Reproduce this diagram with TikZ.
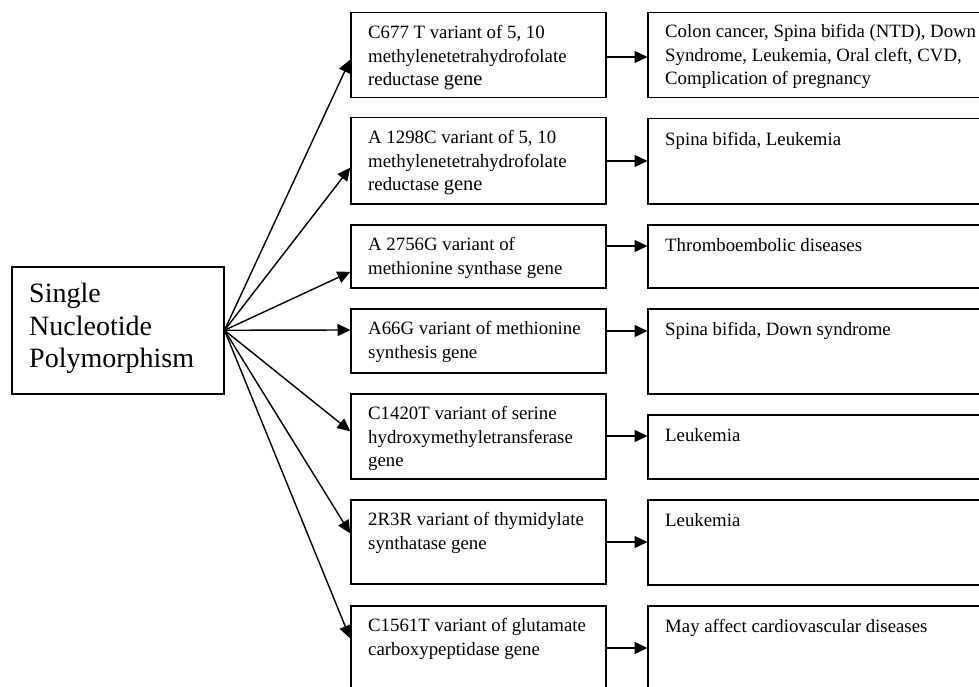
\documentclass[tikz,border=0pt]{standalone}
\usepackage{fontspec}
\setmainfont{Liberation Serif}
\usetikzlibrary{arrows.meta}
\begin{document}
\begin{tikzpicture}[x=1pt,y=-1pt,
  box/.style={draw, line width=1.5pt, rectangle, inner sep=0pt, anchor=north west},
  mbox/.style={box, minimum width=255pt},
  rbox/.style={box, minimum width=360pt},
  txt/.style={anchor=north west, inner sep=0pt, align=left, font=\fontsize{18.8}{23.3}\selectfont},
  bigtxt/.style={anchor=north west, inner sep=0pt, align=left, font=\fontsize{28}{32.5}\selectfont},
  arr/.style={line width=1.4pt, -{Triangle[length=13pt,width=12pt]}, shorten >=-0.5pt}]
\useasboundingbox (0,0) rectangle (979,687);
\clip (0,0) rectangle (979,687);
\newcommand{\bgene}{{\fontsize{20.5}{23.3}\selectfont gene}}
% left box
\node[box, minimum width=212pt, minimum height=127pt] (snp) at (11,266) {};
\node[bigtxt] (snpt) at (29,283) {Single\\Nucleotide\\Polymorphism};
% middle boxes
\node[mbox, minimum height=85pt] (m1) at (350,12) {};
\node[mbox, minimum height=86pt] (m2) at (350,117) {};
\node[mbox, minimum height=63pt] (m3) at (350,224) {};
\node[mbox, minimum height=64pt] (m4) at (350,308) {};
\node[mbox, minimum height=85pt] (m5) at (350,393) {};
\node[mbox, minimum height=84pt] (m6) at (350,499) {};
\node[mbox, minimum height=90pt] (m7) at (350,605) {};
% right boxes
\node[rbox, minimum height=85pt] (r1) at (647,12) {};
\node[rbox, minimum height=85pt] (r2) at (647,118) {};
\node[rbox, minimum height=63pt] (r3) at (647,224) {};
\node[rbox, minimum height=85pt] (r4) at (647,308) {};
\node[rbox, minimum height=64pt] (r5) at (647,414) {};
\node[rbox, minimum height=85pt] (r6) at (647,499) {};
\node[rbox, minimum height=90pt] (r7) at (647,605) {};
% middle texts
\node[txt] (m1t) at (368,25.5) {C677 T variant of 5, 10\\methylenetetrahydrofolate\\reductase \bgene};
\node[txt] (m2t) at (368,130.5) {A 1298C variant of 5, 10\\methylenetetrahydrofolate\\reductase \bgene};
\node[txt] (m3t) at (368,237.5) {A 2756G variant of\\methionine synthase gene};
\node[txt] (m4t) at (368,321.5) {A66G variant of methionine\\synthesis gene};
\node[txt] (m5t) at (368,406.5) {C1420T variant of serine\\hydroxymethyletransferase\\gene};
\node[txt] (m6t) at (368,512.5) {2R3R variant of thymidylate\\synthatase gene};
\node[txt] (m7t) at (368,618.5) {C1561T variant of glutamate\\carboxypeptidase gene};
% right texts
\node[txt] (r1t) at (665,24.5) {Colon cancer, Spina bifida (NTD), Down\\Syndrome, Leukemia, Oral cleft, CVD,\\Complication of pregnancy};
\node[txt] (r2t) at (665,132) {Spina bifida, Leukemia};
\node[txt] (r3t) at (665,238) {Thromboembolic diseases};
\node[txt] (r4t) at (665,322) {Spina bifida, Down syndrome};
\node[txt] (r5t) at (665,428) {Leukemia};
\node[txt] (r6t) at (665,513) {Leukemia};
\node[txt] (r7t) at (665,619) {May affect cardiovascular diseases};
% fan arrow targets
\coordinate (f1) at (0,60);
\coordinate (f2) at (0,168);
\coordinate (f3) at (0,272);
\coordinate (f4) at (0,330);
\coordinate (f5) at (0,431);
\coordinate (f6) at (0,533);
\coordinate (f7) at (0,638);
\foreach \i in {1,...,7}{
  \draw[arr] (snp.east) -- (m\i.west |- f\i);
}
% right arrow levels
\coordinate (h1) at (0,57);
\coordinate (h2) at (0,161);
\coordinate (h3) at (0,246);
\coordinate (h4) at (0,331);
\coordinate (h5) at (0,436);
\coordinate (h6) at (0,542);
\coordinate (h7) at (0,648);
\foreach \i in {1,...,7}{
  \draw[arr] (m\i.east |- h\i) -- (r\i.west |- h\i);
}
\end{tikzpicture}
\end{document}
